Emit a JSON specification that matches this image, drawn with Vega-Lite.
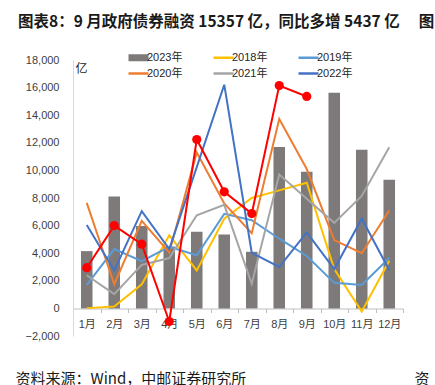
{
  "$schema": "https://vega.github.io/schema/vega-lite/v6.json",
  "width": 330,
  "height": 276,
  "autosize": "none",
  "padding": {"left": 73, "top": 60, "right": 32, "bottom": 49},
  "background": "white",
  "config": {
    "view": {"stroke": null},
    "font": "Liberation Sans, Noto Sans CJK SC",
    "axis": {"labelFont": "Liberation Sans, Noto Sans CJK SC", "labelColor": "#404040", "labelFontSize": 11, "grid": false}
  },
  "title": {
    "text": "图表8：9 月政府债券融资 15357 亿，同比多增 5437 亿　     图",
    "anchor": "start",
    "frame": "group",
    "font": "Noto Sans CJK SC",
    "fontSize": 15.5,
    "fontWeight": "bold",
    "color": "#1a1a1a",
    "dx": -55,
    "offset": 22
  },
  "datasets": {
    "bars": [
      {"month": "1月", "series": "2023年", "value": 4150},
      {"month": "2月", "series": "2023年", "value": 8100},
      {"month": "3月", "series": "2023年", "value": 5980},
      {"month": "4月", "series": "2023年", "value": 4480},
      {"month": "5月", "series": "2023年", "value": 5550},
      {"month": "6月", "series": "2023年", "value": 5350},
      {"month": "7月", "series": "2023年", "value": 4100},
      {"month": "8月", "series": "2023年", "value": 11700},
      {"month": "9月", "series": "2023年", "value": 9900},
      {"month": "10月", "series": "2023年", "value": 15630},
      {"month": "11月", "series": "2023年", "value": 11500},
      {"month": "12月", "series": "2023年", "value": 9330}
    ],
    "red": [
      {"month": "1月", "value": 2950},
      {"month": "2月", "value": 6000},
      {"month": "3月", "value": 4650},
      {"month": "4月", "value": -950},
      {"month": "5月", "value": 12240},
      {"month": "6月", "value": 8450},
      {"month": "7月", "value": 6870},
      {"month": "8月", "value": 16150},
      {"month": "9月", "value": 15357}
    ],
    "lines": [
      {"month": "1月", "series": "2018年", "value": 20},
      {"month": "2月", "series": "2018年", "value": 130},
      {"month": "3月", "series": "2018年", "value": 1750},
      {"month": "4月", "series": "2018年", "value": 5300},
      {"month": "5月", "series": "2018年", "value": 2750},
      {"month": "6月", "series": "2018年", "value": 6500},
      {"month": "7月", "series": "2018年", "value": 8000},
      {"month": "8月", "series": "2018年", "value": 8550},
      {"month": "9月", "series": "2018年", "value": 9100},
      {"month": "10月", "series": "2018年", "value": 2850},
      {"month": "11月", "series": "2018年", "value": -230},
      {"month": "12月", "series": "2018年", "value": 3450},
      {"month": "1月", "series": "2019年", "value": 1700},
      {"month": "2月", "series": "2019年", "value": 4300},
      {"month": "3月", "series": "2019年", "value": 3430},
      {"month": "4月", "series": "2019年", "value": 4460},
      {"month": "5月", "series": "2019年", "value": 3850},
      {"month": "6月", "series": "2019年", "value": 6850},
      {"month": "7月", "series": "2019年", "value": 6390},
      {"month": "8月", "series": "2019年", "value": 5050},
      {"month": "9月", "series": "2019年", "value": 3800},
      {"month": "10月", "series": "2019年", "value": 1850},
      {"month": "11月", "series": "2019年", "value": 1700},
      {"month": "12月", "series": "2019年", "value": 3650},
      {"month": "1月", "series": "2020年", "value": 7650},
      {"month": "2月", "series": "2020年", "value": 1750},
      {"month": "3月", "series": "2020年", "value": 6350},
      {"month": "4月", "series": "2020年", "value": 4050},
      {"month": "5月", "series": "2020年", "value": 11300},
      {"month": "6月", "series": "2020年", "value": 7600},
      {"month": "7月", "series": "2020年", "value": 5450},
      {"month": "8月", "series": "2020年", "value": 13730},
      {"month": "9月", "series": "2020年", "value": 10100},
      {"month": "10月", "series": "2020年", "value": 4950},
      {"month": "11月", "series": "2020年", "value": 4000},
      {"month": "12月", "series": "2020年", "value": 7100},
      {"month": "1月", "series": "2021年", "value": 2400},
      {"month": "2月", "series": "2021年", "value": 1030},
      {"month": "3月", "series": "2021年", "value": 3150},
      {"month": "4月", "series": "2021年", "value": 3650},
      {"month": "5月", "series": "2021年", "value": 6750},
      {"month": "6月", "series": "2021年", "value": 7500},
      {"month": "7月", "series": "2021年", "value": 1780},
      {"month": "8月", "series": "2021年", "value": 9700},
      {"month": "9月", "series": "2021年", "value": 7950},
      {"month": "10月", "series": "2021年", "value": 6200},
      {"month": "11月", "series": "2021年", "value": 8150},
      {"month": "12月", "series": "2021年", "value": 11680},
      {"month": "1月", "series": "2022年", "value": 6050},
      {"month": "2月", "series": "2022年", "value": 2750},
      {"month": "3月", "series": "2022年", "value": 7050},
      {"month": "4月", "series": "2022年", "value": 4300},
      {"month": "5月", "series": "2022年", "value": 10240},
      {"month": "6月", "series": "2022年", "value": 16210},
      {"month": "7月", "series": "2022年", "value": 4030},
      {"month": "8月", "series": "2022年", "value": 3000},
      {"month": "9月", "series": "2022年", "value": 5500},
      {"month": "10月", "series": "2022年", "value": 2850},
      {"month": "11月", "series": "2022年", "value": 6500},
      {"month": "12月", "series": "2022年", "value": 2780}
    ]
  },
  "encoding": {
    "x": {
      "field": "month",
      "type": "nominal",
      "sort": ["1月", "2月", "3月", "4月", "5月", "6月", "7月", "8月", "9月", "10月", "11月", "12月"],
      "scale": {"paddingInner": 0, "paddingOuter": 0},
      "axis": {
        "title": "资料来源：Wind，中邮证券研究所　　　　　　　　　　　  资",
        "titleFont": "Noto Sans CJK SC",
        "titleFontSize": 15,
        "titleFontWeight": "normal",
        "titleColor": "#1a1a1a",
        "titleAnchor": "start",
        "titleAlign": "left",
        "titleBaseline": "middle",
        "titleX": -58,
        "titleY": 70,
        "labelAngle": 0,
        "offset": -27.5,
        "domainColor": "#BFBFBF",
        "tickColor": "#BFBFBF",
        "tickSize": 4,
        "tickBand": "extent",
        "labelPadding": 6
      }
    },
    "y": {
      "field": "value",
      "type": "quantitative",
      "scale": {"domain": [-2000, 18000], "nice": false, "zero": false},
      "axis": {
        "values": [-2000, 0, 2000, 4000, 6000, 8000, 10000, 12000, 14000, 16000, 18000],
        "format": ",.0f",
        "ticks": false,
        "domainColor": "#D9D9D9",
        "labelPadding": 14,
        "title": "亿",
        "titleAngle": 0,
        "titleX": 2,
        "titleY": 8,
        "titleAlign": "left",
        "titleBaseline": "middle",
        "titleFont": "Noto Sans CJK SC",
        "titleFontSize": 12,
        "titleFontWeight": "normal",
        "titleColor": "#1a1a1a"
      }
    }
  },
  "layer": [
    {
      "data": {"name": "bars"},
      "mark": {"type": "bar", "width": {"band": 0.42}},
      "encoding": {
        "color": {
          "field": "series",
          "type": "nominal",
          "scale": {
            "domain": ["2023年", "2018年", "2019年", "2020年", "2021年", "2022年"],
            "range": ["#7F7A7A", "#FFC000", "#5B9BD5", "#ED7D31", "#A5A5A5", "#4472C4"]
          },
          "legend": {
            "title": null,
            "orient": "none",
            "legendX": 60,
            "legendY": -8,
            "columns": 3,
            "direction": "horizontal",
            "symbolType": "stroke",
            "symbolSize": 400,
            "symbolStrokeWidth": 2.5,
            "labelFont": "Liberation Sans, Noto Sans CJK SC",
            "labelFontSize": 11,
            "labelColor": "#262626",
            "labelOffset": 3,
            "columnPadding": 25,
            "rowPadding": 4,
            "gridAlign": "all",
            "encode": {
              "symbols": {
                "update": {
                  "shape": {"signal": "datum.value === '2023年' ? 'M-1,-0.35H1V0.35H-1Z' : 'stroke'"},
                  "fill": {"signal": "datum.value === '2023年' ? '#7F7A7A' : 'transparent'"},
                  "strokeWidth": {"signal": "datum.value === '2023年' ? 0 : 2.5"}
                }
              }
            }
          }
        }
      }
    },
    {
      "data": {"name": "lines"},
      "mark": {"type": "line", "strokeWidth": 2},
      "encoding": {
        "color": {"field": "series", "type": "nominal"}
      }
    },
    {
      "data": {"name": "red"},
      "mark": {"type": "line", "strokeWidth": 2, "color": "#FF0000"},
      "encoding": {}
    },
    {
      "data": {"name": "red"},
      "mark": {"type": "point", "filled": true, "size": 85, "opacity": 1, "color": "#FF0000"},
      "encoding": {}
    }
  ]
}
